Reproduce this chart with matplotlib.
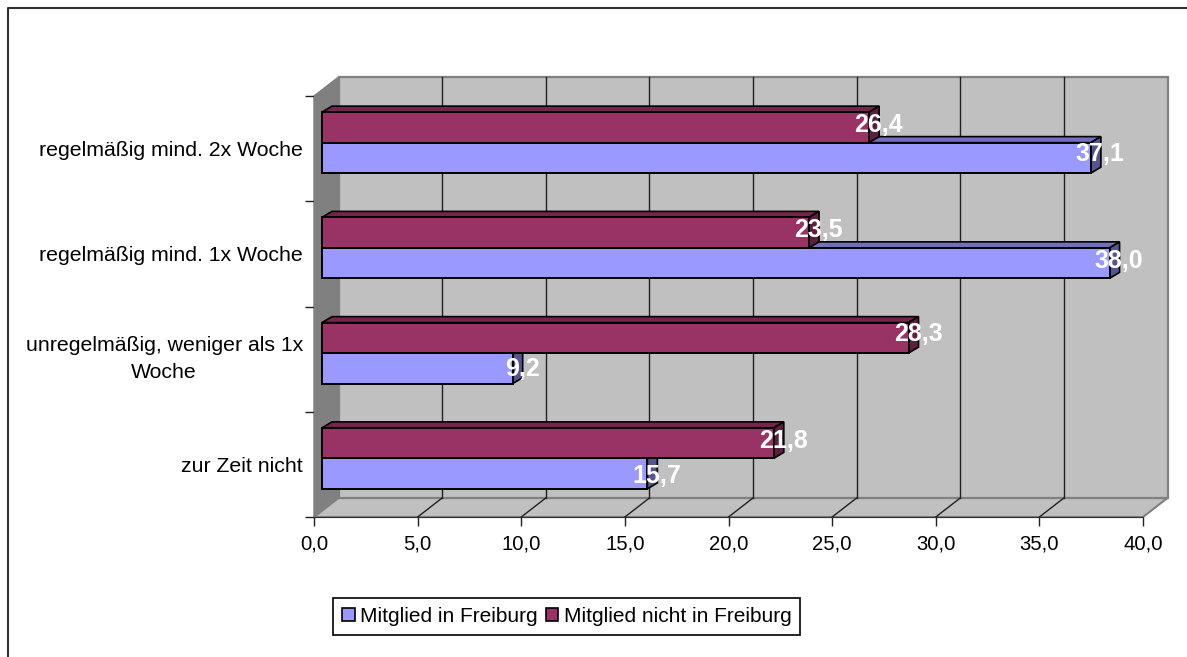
import matplotlib
matplotlib.use('Agg')
import matplotlib.pyplot as plt
from matplotlib.patches import Patch, Polygon, Rectangle
from matplotlib.transforms import Affine2D

plt.rcParams['font.family'] = ['Liberation Sans', 'DejaVu Sans']

categorias = ['zur Zeit nicht', 'unregelmäßig, weniger als 1x\nWoche',
              'regelmäßig mind. 1x Woche', 'regelmäßig mind. 2x Woche']
en_freiburg = [15.7, 9.2, 38.0, 37.1]
no_freiburg = [21.8, 28.3, 23.5, 26.4]
ticks_x = [0, 5, 10, 15, 20, 25, 30, 35, 40]

AZUL, AZUL_TOP, AZUL_LADO = '#9999FF', '#7070BC', '#55558F'
ROJO, ROJO_TOP, ROJO_LADO = '#993366', '#73264D', '#5C1F3D'
GRIS = '#C0C0C0'
GRIS_OSC = '#808080'

# ajuste vertical de las etiquetas de valores, en pixeles
ajuste_azul = [-2.5, -1, 2.5, 4]
ajuste_rojo = [2.5, 3.5, 2.5, 2.5]

fig = plt.figure(figsize=(11.87, 6.57), dpi=100)
ax = fig.add_axes([314 / 1187, 140 / 657, 829 / 1187, 421 / 657])
ax.set_xlim(0, 40)
ax.set_ylim(0, 4)
ax.patch.set_visible(False)

# pixeles a unidades de datos (para la profundidad 3D)
px_x = 40 / 829
px_y = 4 / 421
fondo_x, fondo_y = 24.5 * px_x, 19 * px_y
barra_x, barra_y = 8 * px_x, 6 * px_y
prof_x, prof_y = 10 * px_x, 6 * px_y
alto = 30.5 * px_y


def cara(puntos, color, z, borde='black', lw=1.2):
    ax.add_patch(Polygon(puntos, closed=True, facecolor=color, edgecolor=borde,
                         linewidth=lw, zorder=z, clip_on=False, joinstyle='miter'))


# paredes y piso
cara([(0, 0), (fondo_x, fondo_y), (fondo_x, 4 + fondo_y), (0, 4)], GRIS_OSC, 1, GRIS_OSC, 1)
cara([(0, 0), (40, 0), (40 + fondo_x, fondo_y), (fondo_x, fondo_y)], GRIS, 1, GRIS_OSC, 1.5)
ax.add_patch(Rectangle((fondo_x, fondo_y), 40, 4, facecolor=GRIS, edgecolor=GRIS_OSC,
                       linewidth=1.6, zorder=1, clip_on=False))
for t in ticks_x[1:-1]:
    ax.plot([t + fondo_x, t + fondo_x], [fondo_y, 4 + fondo_y], c='#202020', lw=1, zorder=2, clip_on=False)
    ax.plot([t, t + fondo_x], [0, fondo_y], c='#202020', lw=1, zorder=2, clip_on=False)


def barras(valores, y_base, color, c_top, c_lado, z):
    for i, v in enumerate(valores):
        y0 = i + y_base
        ax.barh(y0, v, height=alto, left=barra_x, align='edge', color=color,
                edgecolor='black', linewidth=1.4, zorder=z + 0.2)
        x0 = barra_x
        x1 = barra_x + v
        y1 = y0 + alto
        cara([(x0, y1), (x1, y1), (x1 + prof_x, y1 + prof_y), (x0 + prof_x, y1 + prof_y)], c_top, z)
        cara([(x1, y0), (x1 + prof_x, y0 + prof_y), (x1 + prof_x, y1 + prof_y), (x1, y1)], c_lado, z)


centro = 0.5 + barra_y
barras(en_freiburg, centro - alto, AZUL, AZUL_TOP, AZUL_LADO, 3)
barras(no_freiburg, centro, ROJO, ROJO_TOP, ROJO_LADO, 4)

# etiquetas de valores
for i in range(4):
    y_az = i + centro - alto / 2
    y_ro = i + centro + alto / 2
    ax.text(barra_x + en_freiburg[i] + 9.5 * px_x, y_az + ajuste_azul[i] * px_y,
            f'{en_freiburg[i]:.1f}'.replace('.', ','), color='white', fontweight='bold',
            fontsize=18, ha='center', va='center', zorder=6)
    ax.text(barra_x + no_freiburg[i] + 9.5 * px_x, y_ro + ajuste_rojo[i] * px_y,
            f'{no_freiburg[i]:.1f}'.replace('.', ','), color='white', fontweight='bold',
            fontsize=18, ha='center', va='center', zorder=6)

# ejes
ax.set_xticks(ticks_x)
ax.set_xticklabels([f'{t:.1f}'.replace('.', ',') for t in ticks_x], fontsize=14.6)
ax.set_yticks([0, 1, 2, 3, 4])
ax.set_yticklabels([])
ax.set_yticks([0.5, 1.5, 2.5, 3.5], minor=True)
etiquetas = ax.set_yticklabels(categorias, minor=True, fontsize=15.3, multialignment='center', linespacing=1.5)
# la etiqueta de dos lineas va centrada y un poco mas arriba
etiquetas[1].set_verticalalignment('center')
etiquetas[1].set_transform(etiquetas[1].get_transform() + Affine2D().translate(0, 2))
ax.tick_params(axis='y', which='minor', length=0, pad=8)
ax.tick_params(axis='both', which='major', length=6.5, width=1, color='#202020')
ax.tick_params(axis='x', pad=6)
ax.spines['top'].set_visible(False)
ax.spines['right'].set_visible(False)
ax.spines['left'].set_color(GRIS_OSC)
ax.spines['bottom'].set_color('#303030')
for s in ax.spines.values():
    s.set_zorder(2.5)

# leyenda
asas = [Patch(facecolor=AZUL, edgecolor='black', linewidth=1.2, label='Mitglied in Freiburg'),
        Patch(facecolor=ROJO, edgecolor='black', linewidth=1.2, label='Mitglied nicht in Freiburg')]
leg = fig.legend(handles=asas, ncol=2, fontsize=15, loc='lower left',
                 bbox_to_anchor=(333 / 1187, (657 - 635) / 657), borderaxespad=0,
                 fancybox=False, framealpha=1, edgecolor='black',
                 handlelength=0.6, handleheight=0.6, handletextpad=0.25,
                 columnspacing=0.4, borderpad=0.44)
leg.get_frame().set_linewidth(1.2)

# marco del area del grafico
fig.add_artist(plt.Line2D([8 / 1187, 8 / 1187, 1], [0, 649 / 657, 649 / 657], c='#303030', lw=1.5))

fig.savefig('out.png', dpi=100)
